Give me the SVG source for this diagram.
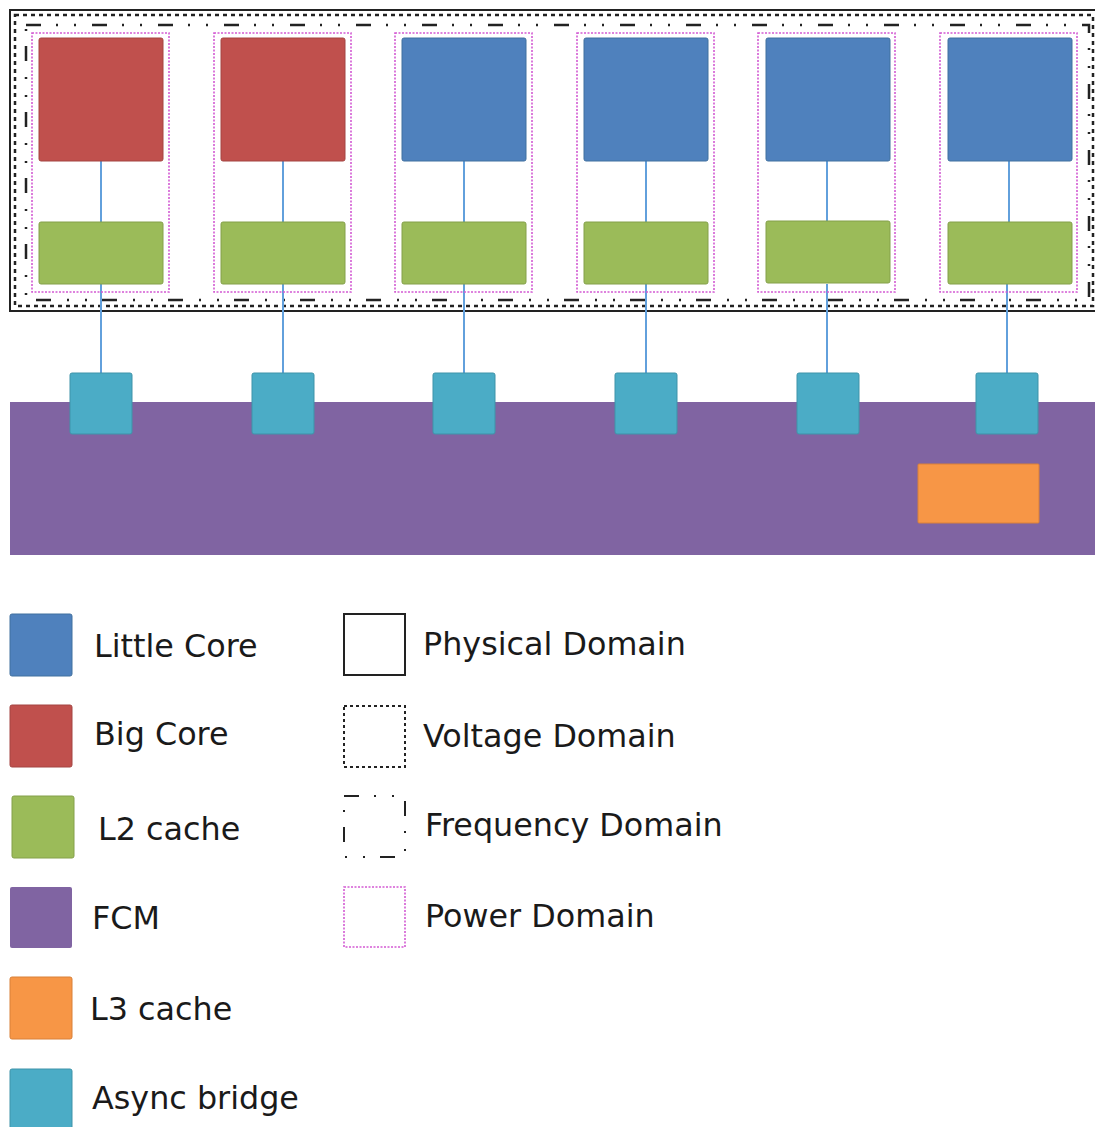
<svg xmlns="http://www.w3.org/2000/svg" width="1095" height="1127" viewBox="0 0 1095 1127">
<style>
.phys{fill:none;stroke:#222;stroke-width:2}
.volt{fill:none;stroke:#222;stroke-width:2.5;stroke-dasharray:4 4}
.freq{fill:none;stroke:#222;stroke-width:2.5;stroke-dasharray:15 15 2 16 2 16}
.pwr{fill:none;stroke:#d35ad3;stroke-width:1.6;stroke-dasharray:2 1.5}
.little{fill:#4f81bd;stroke:#41709f;stroke-width:1}
.big{fill:#c0504d;stroke:#a44542;stroke-width:1}
.l2{fill:#9bbb59;stroke:#84a04a;stroke-width:1}
.fcm{fill:#8064a2}
.l3{fill:#f79646;stroke:#d98038;stroke-width:1}
.bridge{fill:#4bacc6;stroke:#3f93a9;stroke-width:1}
.conn{stroke:#62a0dc;stroke-width:2;fill:none}
.lbl{font-family:"DejaVu Sans",sans-serif;font-size:31.8px;fill:#1a1a1a}
</style>
<rect width="1095" height="1127" fill="#fff"/>
<g id="domains">
<rect class="phys" x="10" y="10" width="1092" height="301"/>
<rect class="volt" x="15" y="15" width="1078" height="291"/>
<rect class="freq" x="26" y="25" width="1063" height="275"/>
</g>
<g id="fcm"><rect class="fcm" x="10" y="402" width="1090" height="153"/></g>
<g id="l3"><rect class="l3" x="918" y="464" width="121" height="59" rx="1"/></g>
<g id="connectors">
<line class="conn" x1="101" y1="161" x2="101" y2="222"/><line class="conn" x1="101" y1="284" x2="101" y2="373"/>
<line class="conn" x1="283" y1="161" x2="283" y2="222"/><line class="conn" x1="283" y1="284" x2="283" y2="373"/>
<line class="conn" x1="464" y1="161" x2="464" y2="222"/><line class="conn" x1="464" y1="284" x2="464" y2="373"/>
<line class="conn" x1="646" y1="161" x2="646" y2="222"/><line class="conn" x1="646" y1="284" x2="646" y2="373"/>
<line class="conn" x1="827" y1="161" x2="827" y2="222"/><line class="conn" x1="827" y1="284" x2="827" y2="373"/>
<line class="conn" x1="1009" y1="161" x2="1009" y2="222"/><line class="conn" x1="1007" y1="284" x2="1007" y2="373"/>
</g>
<g id="col1">
<rect class="pwr" x="32" y="33" width="137" height="259"/>
<rect class="big" x="39" y="38" width="124" height="123" rx="2"/>
<rect class="l2" x="39" y="222" width="124" height="62" rx="2"/>
<rect class="bridge" x="70" y="373" width="62" height="61" rx="2"/>
</g>
<g id="col2">
<rect class="pwr" x="214" y="33" width="137" height="259"/>
<rect class="big" x="221" y="38" width="124" height="123" rx="2"/>
<rect class="l2" x="221" y="222" width="124" height="62" rx="2"/>
<rect class="bridge" x="252" y="373" width="62" height="61" rx="2"/>
</g>
<g id="col3">
<rect class="pwr" x="395" y="33" width="137" height="259"/>
<rect class="little" x="402" y="38" width="124" height="123" rx="2"/>
<rect class="l2" x="402" y="222" width="124" height="62" rx="2"/>
<rect class="bridge" x="433" y="373" width="62" height="61" rx="2"/>
</g>
<g id="col4">
<rect class="pwr" x="577" y="33" width="137" height="259"/>
<rect class="little" x="584" y="38" width="124" height="123" rx="2"/>
<rect class="l2" x="584" y="222" width="124" height="62" rx="2"/>
<rect class="bridge" x="615" y="373" width="62" height="61" rx="2"/>
</g>
<g id="col5">
<rect class="pwr" x="758" y="33" width="137" height="259"/>
<rect class="little" x="766" y="38" width="124" height="123" rx="2"/>
<rect class="l2" x="766" y="221" width="124" height="62" rx="2"/>
<rect class="bridge" x="797" y="373" width="62" height="61" rx="2"/>
</g>
<g id="col6">
<rect class="pwr" x="940" y="33" width="137" height="259"/>
<rect class="little" x="948" y="38" width="124" height="123" rx="2"/>
<rect class="l2" x="948" y="222" width="124" height="62" rx="2"/>
<rect class="bridge" x="976" y="373" width="62" height="61" rx="2"/>
</g>
<g id="legend">
<rect class="little" x="10" y="614" width="62" height="62" rx="2"/>
<text class="lbl" x="94" y="657">Little Core</text>
<rect class="big" x="10" y="705" width="62" height="62" rx="2"/>
<text class="lbl" x="94" y="745">Big Core</text>
<rect class="l2" x="12" y="796" width="62" height="62" rx="2"/>
<text class="lbl" x="98" y="840">L2 cache</text>
<rect class="fcm" x="10" y="887" width="62" height="61" rx="2"/>
<text class="lbl" x="92" y="929">FCM</text>
<rect class="l3" x="10" y="977" width="62" height="62" rx="2"/>
<text class="lbl" x="90" y="1020">L3 cache</text>
<rect class="bridge" x="10" y="1069" width="62" height="70" rx="2"/>
<text class="lbl" x="92" y="1109">Async bridge</text>
<rect class="phys" x="344" y="614" width="61" height="61"/>
<text class="lbl" x="423" y="655">Physical Domain</text>
<rect class="volt" x="344" y="706" width="61" height="61" style="stroke-width:2;stroke-dasharray:3 3"/>
<text class="lbl" x="423" y="747">Voltage Domain</text>
<rect class="freq" x="344" y="796" width="61" height="61" style="stroke-width:2"/>
<text class="lbl" x="425" y="836">Frequency Domain</text>
<rect class="pwr" x="344" y="887" width="61" height="60"/>
<text class="lbl" x="425" y="927">Power Domain</text>
</g>
</svg>
